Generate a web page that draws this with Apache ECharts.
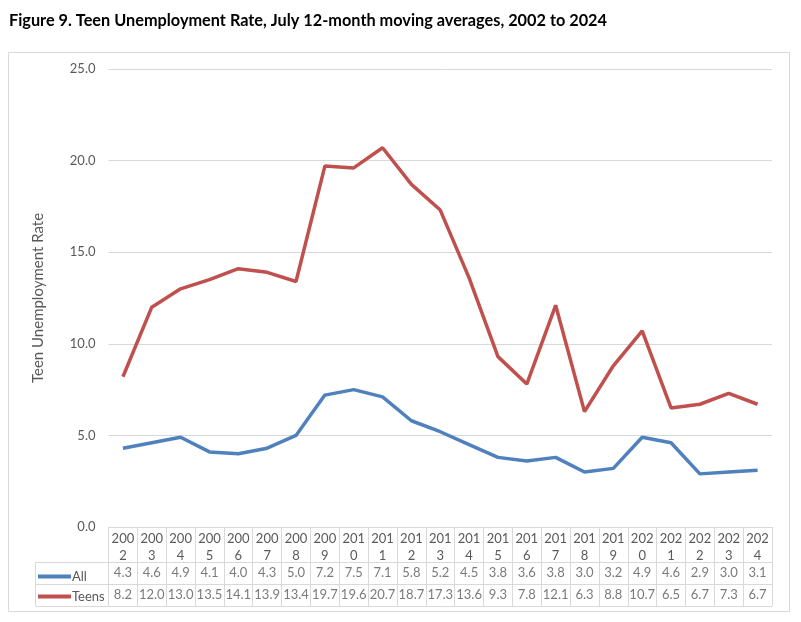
<!DOCTYPE html>
<html>
<head>
<meta charset="utf-8">
<script src="https://cdn.jsdelivr.net/npm/echarts@6/dist/echarts.min.js"></script>
<style>
  html, body { margin: 0; padding: 0; background: #fff; }
  #chart { width: 801px; height: 622px; }
</style>
</head>
<body>
<div id="chart"></div>
<script>
// years on the x axis
var years = ['2002','2003','2004','2005','2006','2007','2008','2009','2010','2011','2012',
             '2013','2014','2015','2016','2017','2018','2019','2020','2021','2022','2023','2024'];
// 12-month moving averages, July
var allRate = [4.3, 4.6, 4.9, 4.1, 4.0, 4.3, 5.0, 7.2, 7.5, 7.1, 5.8, 5.2, 4.5, 3.8, 3.6, 3.8, 3.0, 3.2, 4.9, 4.6, 2.9, 3.0, 3.1];
var teenRate = [8.2, 12.0, 13.0, 13.5, 14.1, 13.9, 13.4, 19.7, 19.6, 20.7, 18.7, 17.3, 13.6, 9.3, 7.8, 12.1, 6.3, 8.8, 10.7, 6.5, 6.7, 7.3, 6.7];
var yTicks = [0, 5, 10, 15, 20, 25];
var tableRows = ['Teens', 'All'];   // bottom to top

var gray = '#d9d9d9';
var txt = '#595959';
var font = 'Lato, "Liberation Sans", sans-serif';

var chart = echarts.init(document.getElementById('chart'));

// table cells: one point per (year, row), label shows the value
var allCells = allRate.map(function (v, i) { return [i, 'All', v]; });
var teenCells = teenRate.map(function (v, i) { return [i, 'Teens', v]; });

var cellLabel = {
    show: true,
    position: 'inside',
    color: txt,
    fontSize: 13,
    fontFamily: font,
    formatter: function (p) { return p.value[2].toFixed(1); }
};

var option = {
    animation: false,
    textStyle: { fontFamily: font },
    title: {
        text: 'Figure 9. Teen Unemployment Rate, July 12-month moving averages, 2002 to 2024',
        left: 4,
        top: 8,
        textStyle: { fontSize: 16.3, fontWeight: 'bold', color: '#000', fontFamily: font }
    },
    legend: {
        data: ['All', 'Teens'],
        orient: 'vertical',
        left: 33,
        top: 565,
        itemGap: 7,
        icon: 'rect',
        itemWidth: 33,
        itemHeight: 4,
        textStyle: { color: txt, fontSize: 13, fontFamily: font, padding: [0, 0, 0, -4] }
    },
    grid: [
        { left: 108.5, right: 29, top: 69, bottom: 95 },   // plot
        { left: 108.5, right: 29, top: 562, bottom: 16 }   // table rows
    ],
    xAxis: [
        {
            gridIndex: 0,
            type: 'category',
            data: years,
            boundaryGap: true,
            axisLine: { lineStyle: { color: gray } },
            // ticks drawn down through the data table form its column lines
            axisTick: { show: true, interval: 0, length: 79, lineStyle: { color: gray } },
            axisLabel: {
                color: txt,
                fontSize: 13,
                lineHeight: 17,
                margin: 3,
                interval: 0,
                formatter: function (v) { return v.slice(0, 3) + '\n' + v.slice(3); }
            }
        },
        {
            gridIndex: 1,
            type: 'category',
            data: years,
            boundaryGap: true,
            axisLine: { show: false },
            axisTick: { show: false },
            axisLabel: { show: false }
        }
    ],
    yAxis: [
        {
            gridIndex: 0,
            type: 'value',
            min: yTicks[0],
            max: yTicks[yTicks.length - 1],
            interval: 5,
            name: 'Teen Unemployment Rate',
            nameLocation: 'middle',
            nameGap: 63,
            nameTextStyle: { color: txt, fontSize: 15, fontFamily: font },
            axisLine: { show: false },
            axisTick: { show: false },
            axisLabel: {
                color: txt,
                fontSize: 13,
                margin: 13,
                formatter: function (v) { return v.toFixed(1); }
            },
            splitLine: { lineStyle: { color: gray } }
        },
        {   // row lines across the value cells
            gridIndex: 1,
            type: 'category',
            position: 'left',
            offset: 0,
            data: tableRows,
            boundaryGap: true,
            axisLine: { show: false },
            axisTick: { show: true, inside: true, interval: 0, length: 663.5, lineStyle: { color: gray } },
            axisLabel: { show: false }
        },
        {   // row lines across the row-header cells
            gridIndex: 1,
            type: 'category',
            position: 'left',
            offset: 0,
            data: tableRows,
            boundaryGap: true,
            axisLine: { show: false },
            axisTick: { show: true, inside: false, interval: 0, length: 73, lineStyle: { color: gray } },
            axisLabel: { show: false }
        }
    ],
    graphic: [
        {   // outer chart border
            type: 'rect',
            shape: { x: 8.5, y: 52.5, width: 781, height: 559 },
            style: { fill: 'none', stroke: gray, lineWidth: 1 },
            silent: true
        },
        {   // left edge of the row-header cells
            type: 'line',
            shape: { x1: 35.5, y1: 562, x2: 35.5, y2: 606 },
            style: { stroke: gray, lineWidth: 1 },
            silent: true
        }
    ],
    series: [
        {
            name: 'All',
            type: 'line',
            xAxisIndex: 0,
            yAxisIndex: 0,
            data: allRate,
            symbol: 'none',
            lineStyle: { color: '#4f81bd', width: 3.5 },
            itemStyle: { color: '#4f81bd' }
        },
        {
            name: 'Teens',
            type: 'line',
            xAxisIndex: 0,
            yAxisIndex: 0,
            data: teenRate,
            symbol: 'none',
            lineStyle: { color: '#c0504d', width: 3.5 },
            itemStyle: { color: '#c0504d' }
        },
        {
            name: 'allTable',
            type: 'scatter',
            xAxisIndex: 1,
            yAxisIndex: 1,
            data: allCells,
            symbolSize: 0,
            silent: true,
            label: cellLabel
        },
        {
            name: 'teenTable',
            type: 'scatter',
            xAxisIndex: 1,
            yAxisIndex: 1,
            data: teenCells,
            symbolSize: 0,
            silent: true,
            label: cellLabel
        }
    ]
};

chart.setOption(option);
</script>
</body>
</html>
